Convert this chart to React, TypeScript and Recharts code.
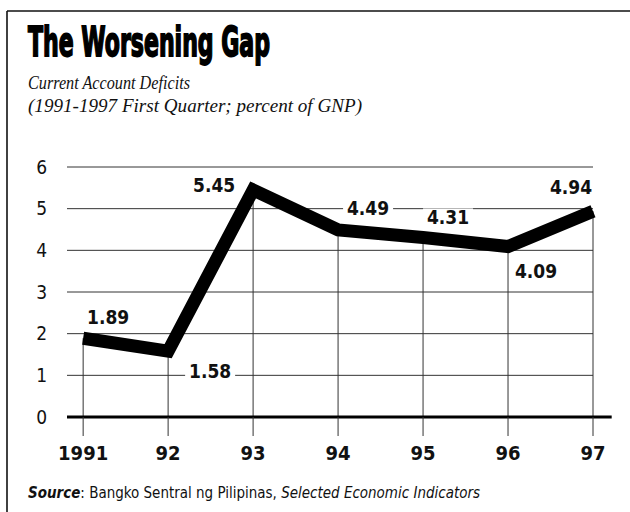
import React from 'react';
import {
    LineChart,
    Line,
    XAxis,
    YAxis,
    CartesianGrid,
    ReferenceLine,
    LabelList
} from 'recharts';

// Current account deficit, % of GNP (1997 = first quarter)
const years = [1991, 1992, 1993, 1994, 1995, 1996, 1997];
const yearLabels = ['1991', '92', '93', '94', '95', '96', '97'];
const deficits = [1.89, 1.58, 5.45, 4.49, 4.31, 4.09, 4.94];
const yTicks = [0, 1, 2, 3, 4, 5, 6];

// where each value label sits relative to its point (dx, dy)
const labelOffsets = [
    [25, -21],
    [42, 20],
    [-39, -5],
    [30, -22],
    [25, -20],
    [28, 24],
    [-22, -24]
];

const WIDTH = 630;
const HEIGHT = 512;
const SANS = "'Liberation Sans Narrow', 'DejaVu Sans Condensed', 'Arial Narrow', sans-serif";
const SERIF = "'Liberation Serif', 'DejaVu Serif', serif";

const chartData = years.map((year, i) => ({ year, value: deficits[i] }));

const ValueLabel = (props: any) => {
    const { x, y, value, index } = props;
    const [dx, dy] = labelOffsets[index] || [0, -20];
    const text = Number(value).toFixed(2);
    const cx = x + dx;
    const cy = y + dy;
    const w = 50;
    return (
        <g>
            <rect x={cx - w / 2} y={cy - 9} width={w} height={18} fill="#fff" />
            <text
                x={cx}
                y={cy}
                textAnchor="middle"
                dominantBaseline="central"
                fontFamily={SANS}
                fontWeight="bold"
                fontSize={19}
                fill="#111"
            >
                {text}
            </text>
        </g>
    );
};

export default function App() {
    return (
        <div style={{ position: 'absolute', left: 0, top: 0, width: WIDTH, height: HEIGHT, background: '#fff' }}>
            <LineChart
                width={WIDTH}
                height={HEIGHT}
                data={chartData}
                margin={{ top: 167, right: 37, bottom: 55, left: 37 }}
            >
                <CartesianGrid vertical={false} stroke="#333" strokeWidth={1} />
                <XAxis
                    dataKey="year"
                    type="number"
                    domain={[1990.81, 1997]}
                    ticks={years}
                    tickFormatter={(v: number) => yearLabels[years.indexOf(v)]}
                    axisLine={false}
                    tickLine={{ stroke: '#333', strokeWidth: 1 }}
                    tickSize={19}
                    tickMargin={10}
                    height={40}
                    tick={{ fontFamily: SANS, fontWeight: 'bold', fontSize: 20, fill: '#111' }}
                />
                <YAxis
                    domain={[0, 6]}
                    ticks={yTicks}
                    axisLine={false}
                    tickLine={false}
                    tickSize={0}
                    tickMargin={20}
                    width={30}
                    tick={{ fontFamily: SANS, fontSize: 19, fill: '#111' }}
                />
                {/* drop lines from each point to the axis */}
                {years.map((year, i) => (
                    <ReferenceLine
                        key={`drop-${year}`}
                        segment={[{ x: year, y: deficits[i] }, { x: year, y: 0 }]}
                        stroke="#333"
                        strokeWidth={1}
                    />
                ))}
                <ReferenceLine
                    segment={[{ x: 1990.81, y: 0 }, { x: 1997.22, y: 0 }]}
                    stroke="#000"
                    strokeWidth={3}
                    ifOverflow="visible"
                />
                <Line
                    type="linear"
                    dataKey="value"
                    stroke="#000"
                    strokeWidth={13}
                    strokeLinejoin="miter"
                    strokeLinecap="butt"
                    dot={false}
                    activeDot={false}
                    isAnimationActive={false}
                >
                    <LabelList dataKey="value" content={ValueLabel} />
                </Line>
            </LineChart>

            <svg
                width={WIDTH}
                height={HEIGHT}
                style={{ position: 'absolute', left: 0, top: 0, pointerEvents: 'none' }}
            >
                {/* frame: top and left rules */}
                <line x1={7} y1={11} x2={WIDTH} y2={11} stroke="#111" strokeWidth={1.6} />
                <line x1={7} y1={11} x2={7} y2={HEIGHT} stroke="#111" strokeWidth={1.6} />

                <text
                    x={28}
                    y={56}
                    fontFamily={SANS}
                    fontWeight="bold"
                    fontSize={40}
                    fill="#000"
                    stroke="#000"
                    strokeWidth={1.8}
                    textLength={242}
                    lengthAdjust="spacingAndGlyphs"
                >
                    The Worsening Gap
                </text>
                <text
                    x={28}
                    y={89}
                    fontFamily={SERIF}
                    fontStyle="italic"
                    fontSize={19}
                    fill="#111"
                    textLength={162}
                    lengthAdjust="spacingAndGlyphs"
                >
                    Current Account Deficits
                </text>
                <text
                    x={28}
                    y={112}
                    fontFamily={SERIF}
                    fontStyle="italic"
                    fontSize={19}
                    fill="#111"
                    textLength={334}
                    lengthAdjust="spacingAndGlyphs"
                >
                    (1991-1997 First Quarter; percent of GNP)
                </text>

                <text
                    x={28}
                    y={498}
                    fontFamily={SANS}
                    fontSize={15}
                    fill="#111"
                    textLength={452}
                    lengthAdjust="spacingAndGlyphs"
                >
                    <tspan fontWeight="bold" fontStyle="italic">Source</tspan>
                    <tspan>: Bangko Sentral ng Pilipinas, </tspan>
                    <tspan fontStyle="italic">Selected Economic Indicators</tspan>
                </text>
            </svg>
        </div>
    );
}
